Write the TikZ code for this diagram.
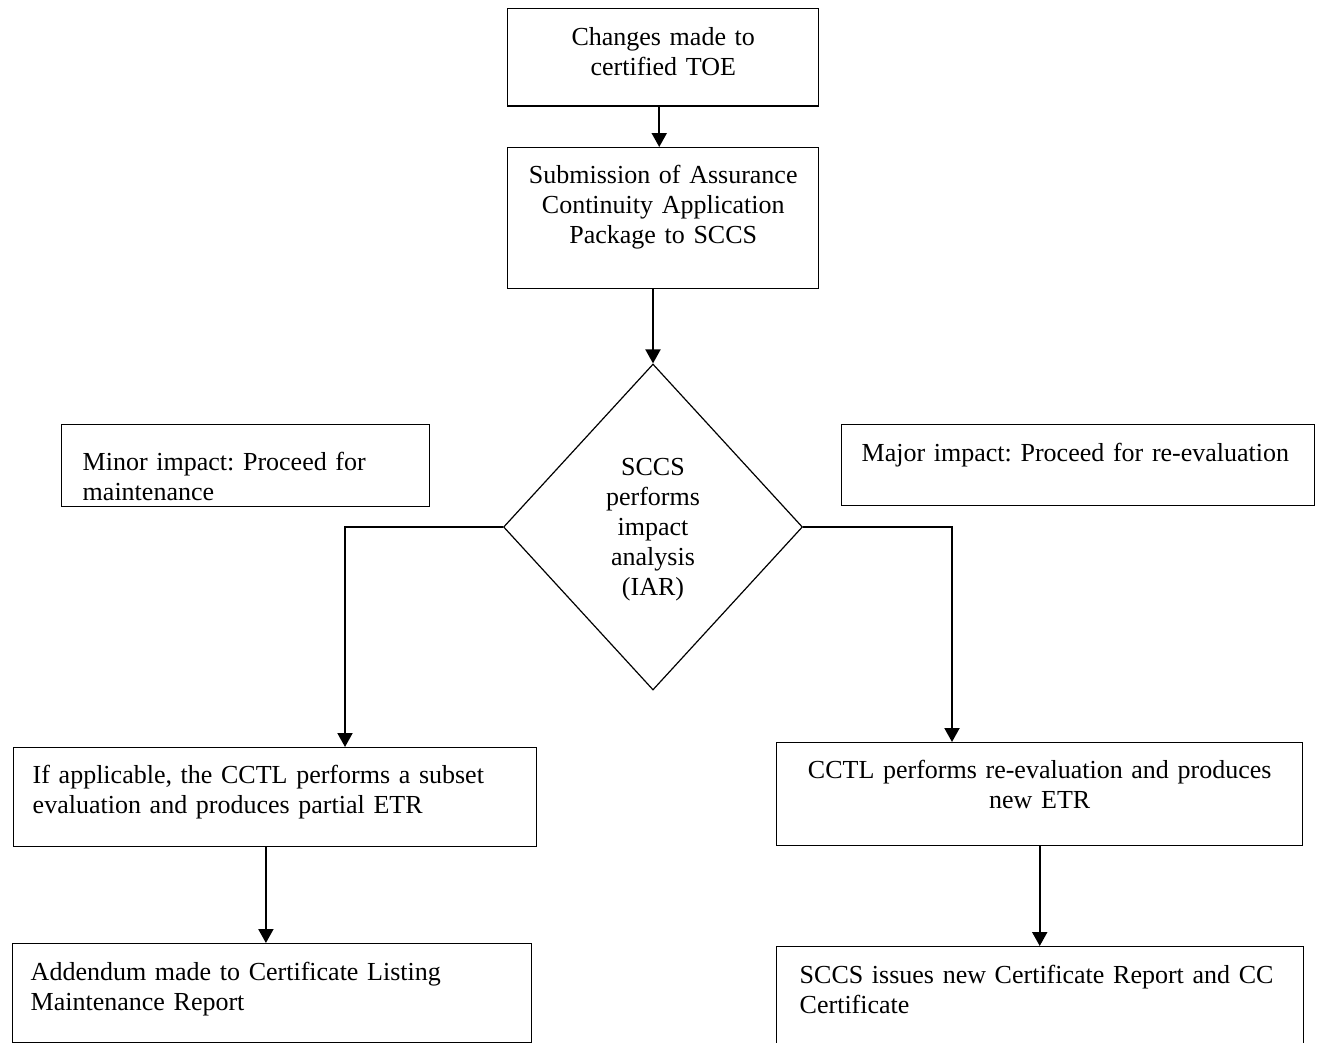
\documentclass[tikz,border=0pt]{standalone}
\usepackage{fontspec}
\setmainfont{Liberation Serif}
\usetikzlibrary{arrows.meta,shapes.geometric}
\newcommand{\lift}[1]{\rule{0pt}{#1}}
\frenchspacing
\begin{document}
\begin{tikzpicture}[x=0.75pt,y=-0.75pt,>={Triangle[width=11.25pt,length=10.5pt]}]
\tikzset{box style/.style={draw,line width=1.1pt,anchor=north west,inner ysep=0pt,font=\fontsize{19.5pt}{22.5pt}\selectfont}}
\tikzset{dia style/.style={draw,diamond,line width=0.9pt,inner sep=0pt,align=center,minimum width=224.25pt,minimum height=244.5pt,font=\fontsize{19.5pt}{22.5pt}\selectfont}}
\tikzset{link style/.style={line width=1.5pt}}
\useasboundingbox (0,0) rectangle (1322,1043);
\node[box style,align=center,inner xsep=7.5pt,text width=218.25pt,text depth=45.4pt] (chg) at (507,8) {\lift{27.4pt}Changes made to\\certified TOE};
\node[box style,align=center,inner xsep=7.5pt,text width=218.25pt,text depth=78.75pt] (sub) at (507,147) {\lift{27pt}Submission of Assurance\\Continuity Application\\Package to SCCS};
\node[dia style,text depth=0pt] (dia) at (653,527) {SCCS\\performs\\impact\\analysis\\(IAR)};
\node[box style,align=left,inner xsep=15.75pt,text width=244.5pt,text depth=27pt] (minor) at (61,424) {\lift{34.5pt}Minor impact: Proceed for\\maintenance};
\node[box style,align=left,inner xsep=15pt,text width=324.75pt,text depth=33pt] (major) at (841,424) {\lift{27.75pt}\mbox{Major impact: Proceed for re-evaluation}};
\node[box style,align=left,inner xsep=14.25pt,text width=363.75pt,text depth=47.25pt] (evl) at (13,747) {\lift{27pt}If applicable, the CCTL performs a subset\\evaluation and produces partial ETR};
\node[box style,align=center,inner xsep=7.5pt,text width=379.5pt,text depth=50.25pt] (ree) at (776,742) {\lift{27pt}CCTL performs re-evaluation and produces\\new ETR};
\node[box style,align=left,inner xsep=13.5pt,text width=362.25pt,text depth=46.5pt] (add) at (12,943) {\lift{27.75pt}Addendum made to Certificate Listing\\Maintenance Report};
\node[box style,align=left,inner xsep=17.25pt,text width=360.75pt,text depth=51.75pt] (iss) at (776,946) {\lift{27.75pt}\mbox{SCCS issues new Certificate Report and CC}\\Certificate};
\coordinate (lbend) at (345,527);
\coordinate (rbend) at (952,527);
\draw[link style,->] ([xshift=-3pt]chg.south) -- ([xshift=-3pt]sub.north);
\draw[link style,->] (sub.south -| dia.north) -- (dia.north);
\draw[link style,->] (dia.west) -- (lbend) -- (lbend |- evl.north);
\draw[link style,->] (dia.east) -- (rbend) -- (rbend |- ree.north);
\draw[link style,->] ([xshift=-7pt]evl.south) -- ([xshift=-7pt]evl.south |- add.north);
\draw[link style,->] (ree.south) -- (ree.south |- iss.north);
\end{tikzpicture}
\end{document}
